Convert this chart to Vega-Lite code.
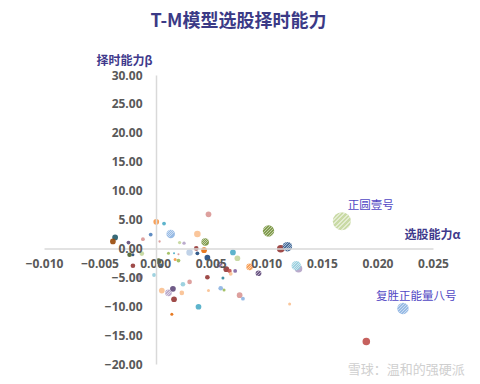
{
  "$schema": "https://vega.github.io/schema/vega-lite/v6.json",
  "autosize": "none",
  "width": 389,
  "height": 289,
  "padding": {"left": 44, "top": 75, "right": 47, "bottom": 20},
  "background": "white",
  "config": {"view": {"stroke": null}},
  "title": {"text": "T-M模型选股择时能力", "font": "Noto Sans CJK SC", "fontSize": 18, "fontWeight": "bold", "color": "#3b3a86", "anchor": "middle", "frame": "group", "baseline": "middle", "offset": 14},
  "data": {"values": [
    {"x": 0.0001, "y": 4.6, "s": 9, "c": "orange", "h": 0},
    {"x": 0.0008, "y": 4.3, "s": 4, "c": "aqua", "h": 0},
    {"x": -0.0004, "y": 2.4, "s": 4, "c": "blue", "h": 0},
    {"x": 0.0014, "y": 2.5, "s": 20, "c": "lightblue", "h": 1},
    {"x": -0.0011, "y": 1.6, "s": 4, "c": "pink", "h": 0},
    {"x": 0.0004, "y": 1.2, "s": 1.5, "c": "pink", "h": 0},
    {"x": 0.0048, "y": 5.9, "s": 9, "c": "pink", "h": 0},
    {"x": 0.0038, "y": 2.5, "s": 12, "c": "lightorange", "h": 0},
    {"x": 0.0045, "y": 1.1, "s": 16, "c": "olive", "h": 1},
    {"x": 0.0044, "y": -0.3, "s": 9, "c": "brown", "h": 0},
    {"x": -0.0036, "y": 1.9, "s": 9, "c": "darkteal", "h": 0},
    {"x": -0.0038, "y": 1.2, "s": 9, "c": "darkbrown", "h": 0},
    {"x": -0.0024, "y": 1.0, "s": 4, "c": "darkpurple", "h": 0},
    {"x": 0.0022, "y": 1.0, "s": 3, "c": "lightgreen", "h": 0},
    {"x": 0.0026, "y": 0.9, "s": 3, "c": "lightpurple", "h": 0},
    {"x": 0.0037, "y": 0.0, "s": 6, "c": "darkred", "h": 0},
    {"x": -0.0012, "y": -0.9, "s": 6, "c": "lightgreen", "h": 0},
    {"x": -0.0023, "y": -1.1, "s": 6, "c": "darkgreen", "h": 0},
    {"x": -0.002, "y": -1.1, "s": 2.5, "c": "darkblue", "h": 0},
    {"x": 0.0031, "y": -0.7, "s": 12, "c": "paleblue", "h": 0},
    {"x": 0.0012, "y": -0.85, "s": 2.5, "c": "green", "h": 0},
    {"x": 0.0017, "y": -0.85, "s": 1.2, "c": "aqua", "h": 0},
    {"x": 0.0021, "y": -1.0, "s": 1.2, "c": "pink", "h": 0},
    {"x": 0.0038, "y": -0.85, "s": 4, "c": "darkblue", "h": 0},
    {"x": 0.0047, "y": -1.6, "s": 9, "c": "darkblue", "h": 0},
    {"x": 0.007, "y": -0.7, "s": 9, "c": "aqua", "h": 0},
    {"x": 0.0074, "y": -1.7, "s": 9, "c": "lightgreen", "h": 0},
    {"x": -0.002, "y": -3.0, "s": 6, "c": "darkred", "h": 0},
    {"x": 0.0003, "y": -2.2, "s": 9, "c": "darkgreen", "h": 0},
    {"x": 0.0005, "y": -3.0, "s": 6, "c": "steel", "h": 0},
    {"x": 0.0018, "y": -1.9, "s": 2.5, "c": "orange", "h": 0},
    {"x": 0.0021, "y": -2.1, "s": 4, "c": "green", "h": 0},
    {"x": 0.0058, "y": -2.8, "s": 9, "c": "purple", "h": 1},
    {"x": 0.0064, "y": -3.6, "s": 9, "c": "darkred", "h": 0},
    {"x": 0.0067, "y": -3.9, "s": 5, "c": "red", "h": 0},
    {"x": 0.0072, "y": -3.9, "s": 4, "c": "purple", "h": 0},
    {"x": 0.0068, "y": -4.4, "s": 4, "c": "lightorange", "h": 0},
    {"x": 0.0085, "y": -3.2, "s": 12, "c": "orange", "h": 1},
    {"x": 0.0093, "y": -4.3, "s": 9, "c": "darkpurple", "h": 1},
    {"x": -0.0014, "y": -4.9, "s": 12, "c": "lightpurple", "h": 0},
    {"x": -0.0001, "y": -4.6, "s": 4, "c": "lightaqua", "h": 0},
    {"x": 0.0047, "y": -5.0, "s": 6, "c": "darkred", "h": 0},
    {"x": 0.0061, "y": -5.1, "s": 2.5, "c": "teal", "h": 0},
    {"x": 0.0031, "y": -5.8, "s": 6, "c": "pink", "h": 0},
    {"x": 0.0025, "y": -6.2, "s": 6, "c": "lightaqua", "h": 0},
    {"x": 0.0059, "y": -6.9, "s": 6, "c": "lightblue", "h": 0},
    {"x": 0.0062, "y": -7.2, "s": 2.5, "c": "green", "h": 0},
    {"x": 0.0006, "y": -7.3, "s": 9, "c": "lightorange", "h": 0},
    {"x": 0.0012, "y": -7.7, "s": 12, "c": "lightpurple", "h": 1},
    {"x": 0.0016, "y": -7.0, "s": 9, "c": "darkpurple", "h": 0},
    {"x": 0.0024, "y": -7.7, "s": 6, "c": "lightorange", "h": 0},
    {"x": 0.0048, "y": -7.3, "s": 2.5, "c": "lightorange", "h": 0},
    {"x": 0.0076, "y": -8.1, "s": 9, "c": "pink", "h": 0},
    {"x": 0.0079, "y": -8.7, "s": 4, "c": "lightblue", "h": 0},
    {"x": 0.0017, "y": -8.8, "s": 9, "c": "darkred", "h": 0},
    {"x": 0.0039, "y": -10.1, "s": 9, "c": "aqua", "h": 0},
    {"x": 0.0121, "y": -9.6, "s": 2.5, "c": "lightorange", "h": 0},
    {"x": 0.0015, "y": -11.4, "s": 2.5, "c": "brown", "h": 0},
    {"x": 0.0168, "y": 4.7, "s": 90, "c": "lightgreen", "h": 1, "name": "正圆壹号"},
    {"x": 0.0102, "y": 3.0, "s": 36, "c": "olive", "h": 1},
    {"x": 0.0113, "y": -0.05, "s": 16, "c": "darkred", "h": 0},
    {"x": 0.0119, "y": 0.3, "s": 25, "c": "steel", "h": 1},
    {"x": 0.0129, "y": -3.5, "s": 16, "c": "lightpurple", "h": 0},
    {"x": 0.0127, "y": -3.0, "s": 25, "c": "lightaqua", "h": 1},
    {"x": 0.0223, "y": -10.4, "s": 36, "c": "lightblue", "h": 1, "name": "复胜正能量八号"},
    {"x": 0.019, "y": -16.1, "s": 16, "c": "red", "h": 0}
  ]},
  "encoding": {
    "x": {"field": "x", "type": "quantitative", "scale": {"domain": [-0.01, 0.025], "nice": false, "zero": false},
      "axis": {"values": [-0.01, -0.005, 0, 0.005, 0.01, 0.015, 0.02, 0.025], "format": ".3f", "offset": -115.6, "tickSize": 0, "ticks": false, "labelPadding": 10, "grid": false, "domainColor": "#d9d9d9", "domainWidth": 1.5, "labelFont": "Open Sans", "labelFontWeight": "bold", "labelFontSize": 12, "labelColor": "#595959", "labelOverlap": false, "labelFlush": false, "zindex": 1,
        "title": "选股能力α", "titleX": 388, "titleY": -14, "titleAlign": "center", "titleBaseline": "middle", "titleAngle": 0, "titleFont": "Noto Sans CJK SC", "titleFontSize": 12, "titleFontWeight": "bold", "titleColor": "#3f3a8c"}},
    "y": {"field": "y", "type": "quantitative", "scale": {"domain": [-20, 30], "nice": false, "zero": false},
      "axis": {"values": [-20, -15, -10, -5, 0, 5, 10, 15, 20, 25, 30], "format": ".2f", "offset": -112, "tickSize": 0, "ticks": false, "labelPadding": 14, "grid": false, "domainColor": "#d9d9d9", "domainWidth": 1.5, "labelFont": "Open Sans", "labelFontWeight": "bold", "labelFontSize": 12, "labelColor": "#595959", "labelOverlap": false, "labelFlush": false, "zindex": 1,
        "title": "择时能力β", "titleX": -32, "titleY": -15, "titleAlign": "center", "titleBaseline": "middle", "titleAngle": 0, "titleFont": "Noto Sans CJK SC", "titleFontSize": 12, "titleFontWeight": "bold", "titleColor": "#3f3a8c"}}
  },
  "layer": [
    {"mark": {"type": "point", "filled": true, "opacity": 0.9, "strokeWidth": 0},
      "encoding": {
        "size": {"field": "s", "type": "quantitative", "scale": {"domain": [0, 100], "range": [0, 360]}, "legend": null},
        "color": {"field": "c", "type": "nominal", "legend": null,
          "scale": {"domain": ["orange", "aqua", "blue", "lightblue", "pink", "red", "lightorange", "olive", "brown", "darkteal", "darkbrown", "darkpurple", "lightgreen", "lightpurple", "darkred", "darkgreen", "darkblue", "paleblue", "green", "steel", "purple", "teal", "lightaqua"],
            "range": ["#F79646", "#4BACC6", "#4F81BD", "#8DB4E2", "#D99694", "#C0504D", "#FAC090", "#76923C", "#E46C0A", "#215968", "#984807", "#5F497A", "#C3D69B", "#B3A2C7", "#953735", "#4F6228", "#1F497D", "#B9CDE5", "#9BBB59", "#366092", "#8064A2", "#31859C", "#93CDDD"]}}
      }},
    {"transform": [{"filter": "datum.h == 1"}],
      "mark": {"type": "point", "filled": true, "opacity": 1, "strokeWidth": 0,
        "fill": {"gradient": "linear", "x1": 0, "y1": 0, "x2": 1, "y2": 1, "stops": [
          {"offset": 0, "color": "rgba(255,255,255,0)"},
          {"offset": 0.075, "color": "rgba(255,255,255,0)"}, {"offset": 0.075, "color": "rgba(255,255,255,0.5)"}, {"offset": 0.125, "color": "rgba(255,255,255,0.5)"}, {"offset": 0.125, "color": "rgba(255,255,255,0)"},
          {"offset": 0.2, "color": "rgba(255,255,255,0)"}, {"offset": 0.2, "color": "rgba(255,255,255,0.5)"}, {"offset": 0.25, "color": "rgba(255,255,255,0.5)"}, {"offset": 0.25, "color": "rgba(255,255,255,0)"},
          {"offset": 0.325, "color": "rgba(255,255,255,0)"}, {"offset": 0.325, "color": "rgba(255,255,255,0.5)"}, {"offset": 0.375, "color": "rgba(255,255,255,0.5)"}, {"offset": 0.375, "color": "rgba(255,255,255,0)"},
          {"offset": 0.45, "color": "rgba(255,255,255,0)"}, {"offset": 0.45, "color": "rgba(255,255,255,0.5)"}, {"offset": 0.5, "color": "rgba(255,255,255,0.5)"}, {"offset": 0.5, "color": "rgba(255,255,255,0)"},
          {"offset": 0.575, "color": "rgba(255,255,255,0)"}, {"offset": 0.575, "color": "rgba(255,255,255,0.5)"}, {"offset": 0.625, "color": "rgba(255,255,255,0.5)"}, {"offset": 0.625, "color": "rgba(255,255,255,0)"},
          {"offset": 0.7, "color": "rgba(255,255,255,0)"}, {"offset": 0.7, "color": "rgba(255,255,255,0.5)"}, {"offset": 0.75, "color": "rgba(255,255,255,0.5)"}, {"offset": 0.75, "color": "rgba(255,255,255,0)"},
          {"offset": 0.825, "color": "rgba(255,255,255,0)"}, {"offset": 0.825, "color": "rgba(255,255,255,0.5)"}, {"offset": 0.875, "color": "rgba(255,255,255,0.5)"}, {"offset": 0.875, "color": "rgba(255,255,255,0)"},
          {"offset": 1, "color": "rgba(255,255,255,0)"}]}},
      "encoding": {
        "size": {"field": "s", "type": "quantitative", "scale": {"domain": [0, 100], "range": [0, 360]}, "legend": null}
      }},
    {"transform": [{"filter": "datum.name == '正圆壹号'"}],
      "mark": {"type": "text", "align": "left", "baseline": "middle", "dx": 6, "dy": -15, "font": "Noto Sans CJK SC", "fontSize": 11.5, "color": "#5147c4"},
      "encoding": {"text": {"field": "name"}}},
    {"transform": [{"filter": "datum.name == '复胜正能量八号'"}],
      "mark": {"type": "text", "align": "left", "baseline": "middle", "dx": -27, "dy": -12, "font": "Noto Sans CJK SC", "fontSize": 11.5, "color": "#5147c4"},
      "encoding": {"text": {"field": "name"}}},
    {"data": {"values": [{"x": 0.0226, "y": -21.0, "t": "雪球：温和的强硬派"}]},
      "mark": {"type": "text", "align": "center", "baseline": "middle", "font": "Noto Sans CJK SC", "fontSize": 13, "color": "#cfcfcf", "clip": false},
      "encoding": {"text": {"field": "t"}}}
  ]
}
